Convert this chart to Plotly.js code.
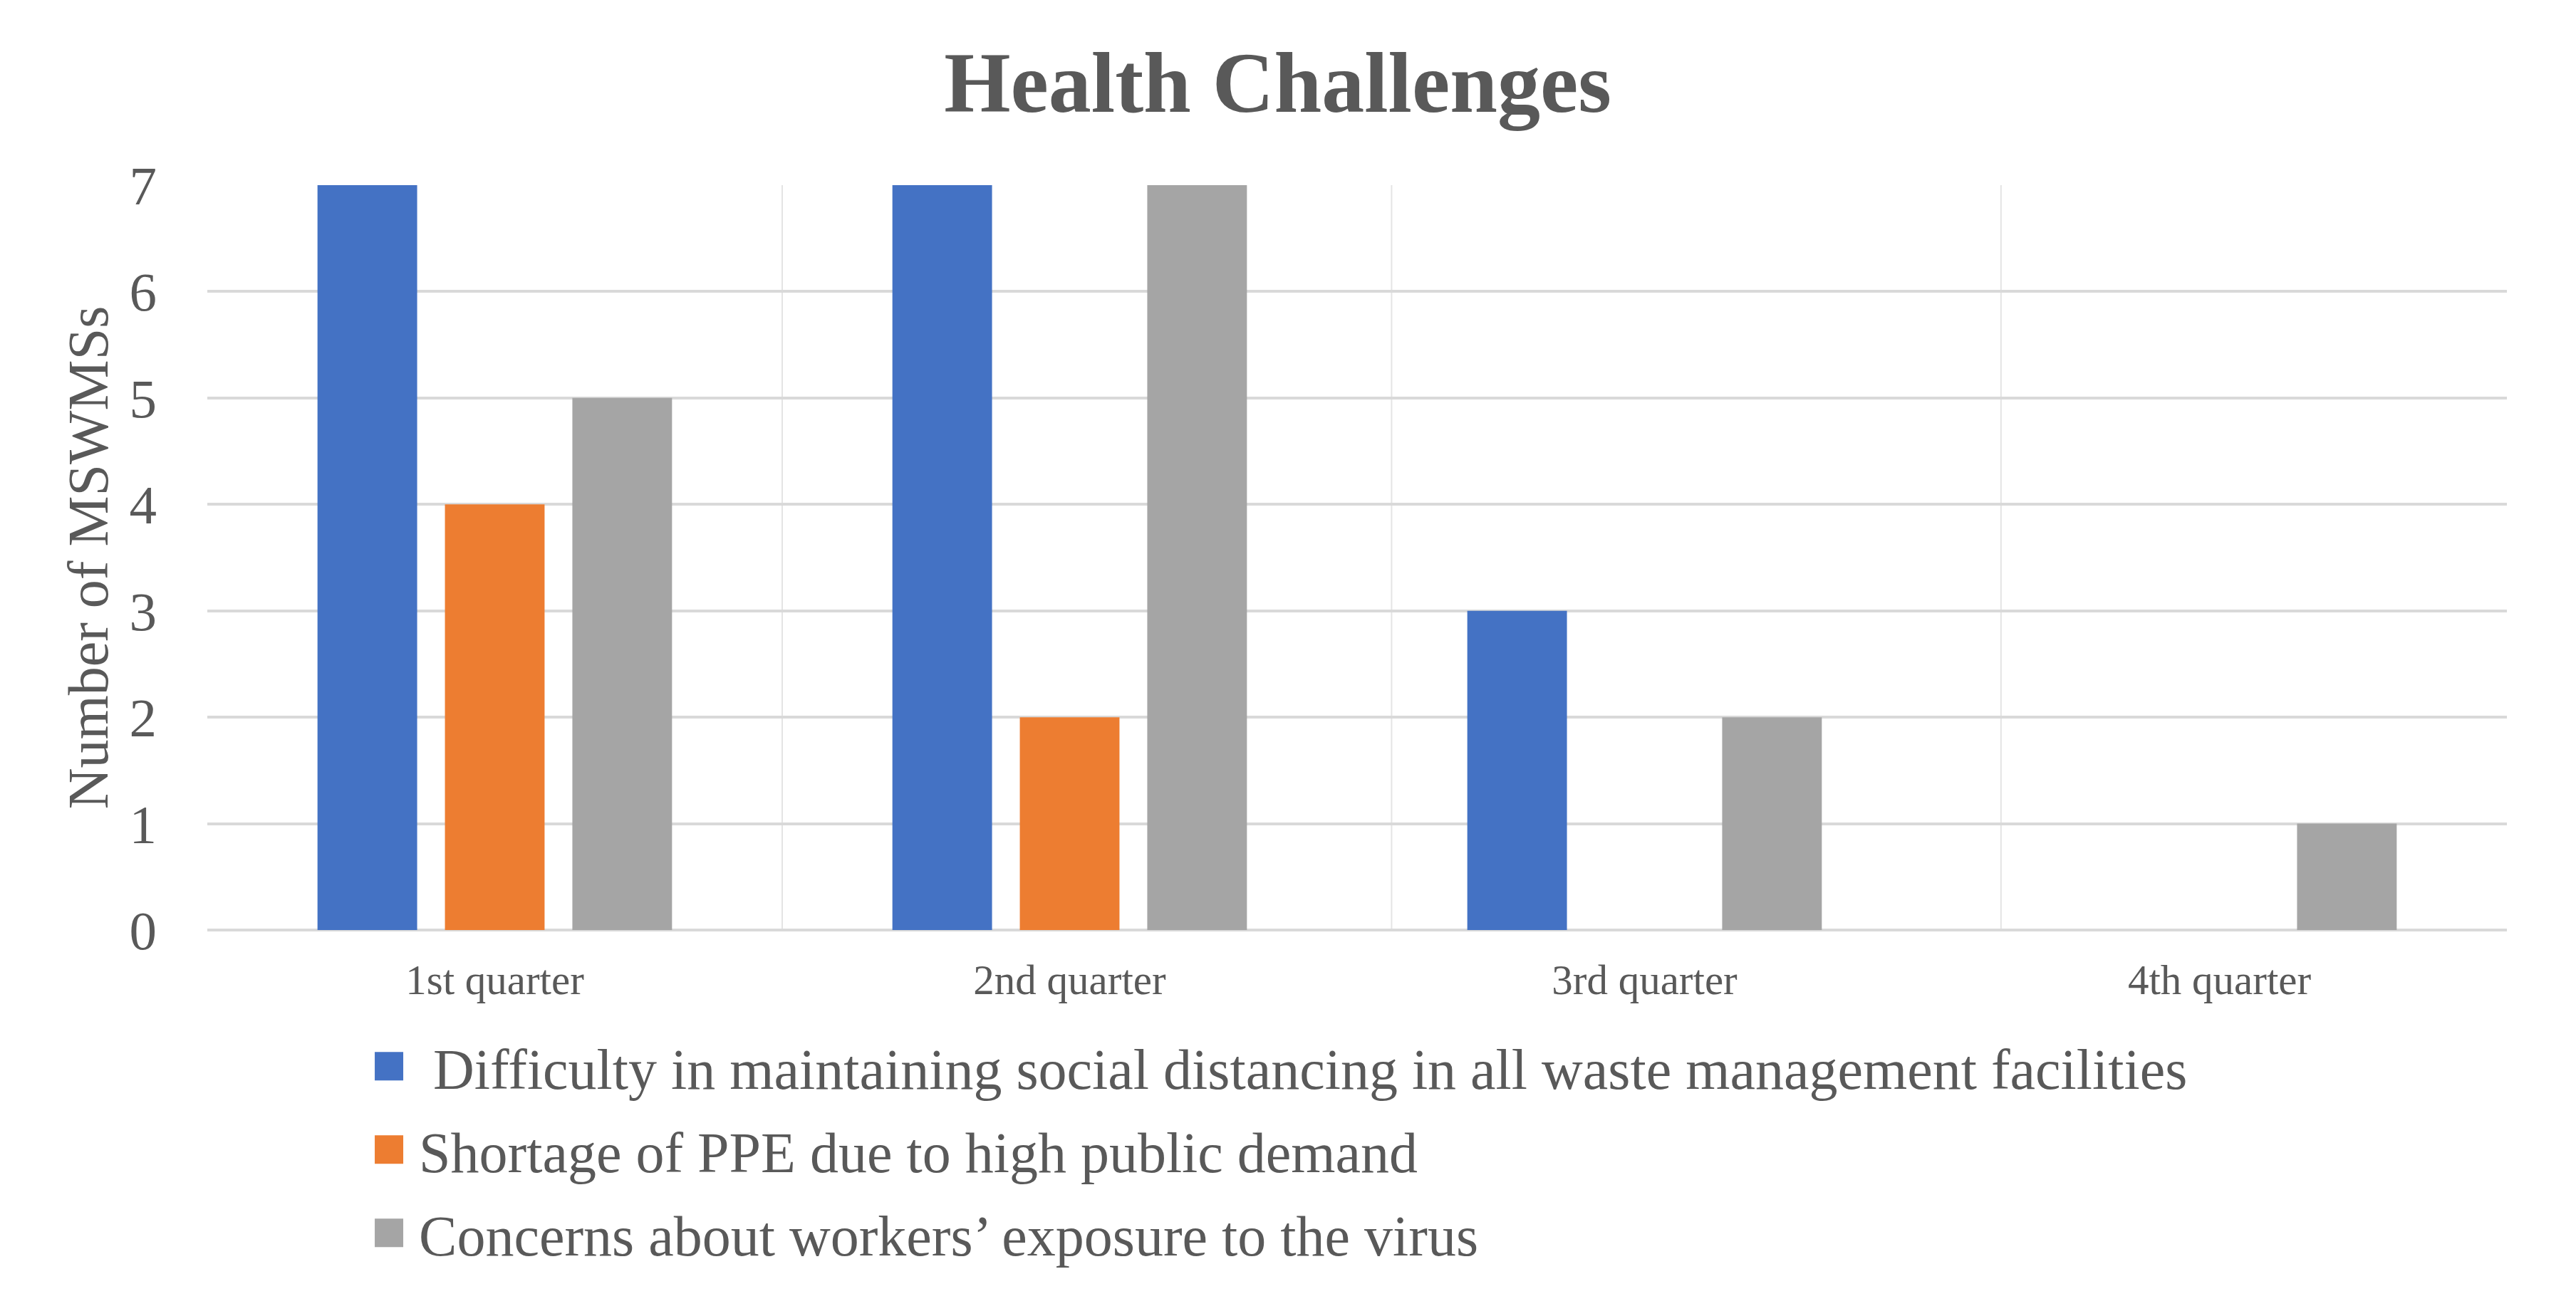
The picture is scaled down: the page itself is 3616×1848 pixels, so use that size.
<!DOCTYPE html>
<html>
<head>
<meta charset="utf-8">
<script src="https://cdn.plot.ly/plotly-3.0.1.min.js"></script>
<style>
  body { margin: 0; background: #ffffff; }
</style>
</head>
<body>
<div id="chart"></div>
<script>
var quarters = ["1st quarter", "2nd quarter", "3rd quarter", "4th quarter"];
var seriesNames = [
    "\u00a0Difficulty in maintaining social distancing in all waste management facilities",
    "Shortage of PPE due to high public demand",
    "Concerns about workers\u2019 exposure to the virus"
];
var distancingValues = [7, 7, 3, 0];
var ppeValues = [4, 2, 0, 0];
var exposureValues = [5, 7, 2, 1];
var seriesColors = ["#4472C4", "#ED7D31", "#A5A5A5"];
var yTickValues = [0, 1, 2, 3, 4, 5, 6, 7];
// light vertical rules seen in the original, in category units
var dividerPositions = [0.5, 1.56, 2.62];

var textColor = "#595959";
var serif = "Liberation Serif, Times New Roman, serif";

function getBarTrace(traceName, ySeries, Color, group){
    let trace = {
        name: traceName,
        x: quarters,
        y: ySeries,
        type: 'bar',
        legendgroup: group,
        hoverinfo: 'none',
        marker: {
            color: Color,
            line: {width: 0}
        }
    };
    return trace;
}

function getDividers(positions){
    let shapes = [];
    for (let i = 0; i < positions.length; i++){
        shapes.push({
            type: 'line',
            xref: 'x',
            yref: 'paper',
            x0: positions[i],
            x1: positions[i],
            y0: 0,
            y1: 1,
            layer: 'below',
            line: {color: '#E4E4E4', width: 2}
        });
    }
    return shapes;
}

function enlargeLegendKeys(gd){
    // Excel-style legend keys are much larger than plotly's fixed 12px square
    let keys = gd.querySelectorAll('g.legendpoints path');
    for (let i = 0; i < keys.length; i++){
        keys[i].setAttribute('d', 'M20,20H-20V-20H20Z');
    }
}

var traces = [];
traces.push(getBarTrace(seriesNames[0], distancingValues, seriesColors[0], 'g1'));
traces.push(getBarTrace(seriesNames[1], ppeValues, seriesColors[1], 'g2'));
traces.push(getBarTrace(seriesNames[2], exposureValues, seriesColors[2], 'g3'));

var layout = {
    width: 3616,
    height: 1848,
    margin: {l: 291, r: 97, t: 260, b: 542},
    paper_bgcolor: '#ffffff',
    plot_bgcolor: '#ffffff',
    font: {family: serif, color: textColor},
    title: {
        text: '<b>Health Challenges</b>',
        font: {family: serif, size: 120, color: textColor},
        xref: 'container',
        yref: 'container',
        x: 0.496,
        y: 1 - 115 / 1848,
        xanchor: 'center',
        yanchor: 'middle'
    },
    barmode: 'group',
    bargap: 0.335,
    bargroupgap: 0.218,
    xaxis: {
        type: 'category',
        showgrid: false,
        zeroline: false,
        showline: false,
        ticks: '',
        tickangle: 0,
        ticklabelstandoff: 30,
        automargin: false,
        tickfont: {family: serif, size: 59, color: textColor}
    },
    yaxis: {
        range: [0, 7],
        tickvals: yTickValues,
        ticks: '',
        showline: false,
        automargin: false,
        ticklabelstandoff: 70,
        gridcolor: '#D9D9D9',
        gridwidth: 4,
        zeroline: true,
        zerolinecolor: '#D9D9D9',
        zerolinewidth: 4,
        tickfont: {family: serif, size: 77, color: textColor},
        title: {
            text: 'Number of MSWMSs',
            font: {family: serif, size: 80, color: textColor},
            standoff: 3
        }
    },
    showlegend: true,
    legend: {
        x: 0.066,
        y: -0.127,
        xanchor: 'left',
        yanchor: 'top',
        orientation: 'v',
        itemwidth: 74,
        tracegroupgap: 10,
        font: {family: serif, size: 80, color: textColor},
        bgcolor: 'rgba(0,0,0,0)'
    },
    shapes: getDividers(dividerPositions)
};

Plotly.newPlot('chart', traces, layout, {staticPlot: true}).then(function(gd){
    enlargeLegendKeys(gd);
    gd.on('plotly_afterplot', function(){ enlargeLegendKeys(gd); });
});
</script>
</body>
</html>
